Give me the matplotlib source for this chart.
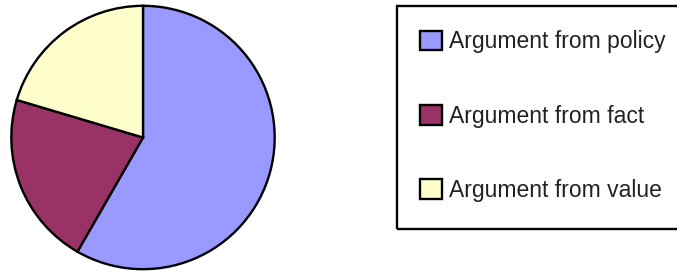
import matplotlib.pyplot as plt
from matplotlib.patches import Rectangle

labels = ['Argument from policy', 'Argument from fact', 'Argument from value']
values = [58.3, 21.3, 20.4]
colors = ['#9999FF', '#993366', '#FFFFCC']

W, H = 677, 273
fig = plt.figure(figsize=(W / 100, H / 100), dpi=100)

# pie axes: centre (143, 137.5) px, radius 133 px
cx, cy, r = 143, 137.5, 133
ax = fig.add_axes([(cx - r) / W, (H - cy - r) / H, 2 * r / W, 2 * r / H])
wedges, _ = ax.pie(values, colors=colors, startangle=90, counterclock=False,
                   radius=1, wedgeprops=dict(edgecolor='black', linewidth=1.7))
ax.set_xlim(-1.01, 1.01)
ax.set_ylim(-1.01, 1.01)
ax.set_aspect('equal')
ax.axis('off')

# legend box (runs off the right edge like the original)
fig.patches.append(Rectangle((397 / W, (H - 229) / H), 300 / W, 223 / H,
                             transform=fig.transFigure, facecolor='none',
                             edgecolor='black', linewidth=1.7))

plt.rcParams['font.family'] = ['Liberation Sans', 'DejaVu Sans']
leg = fig.legend(wedges, labels, loc='upper left',
                 bbox_to_anchor=(397 / W, (H - 7.5) / H), borderaxespad=0,
                 fontsize=16.5, frameon=False,
                 borderpad=1.0, labelspacing=2.23, handlelength=0.95,
                 handleheight=0.95, handletextpad=0.32)
for t in leg.get_texts():
    t.set_color('#222222')

fig.savefig('out.png', dpi=100)
